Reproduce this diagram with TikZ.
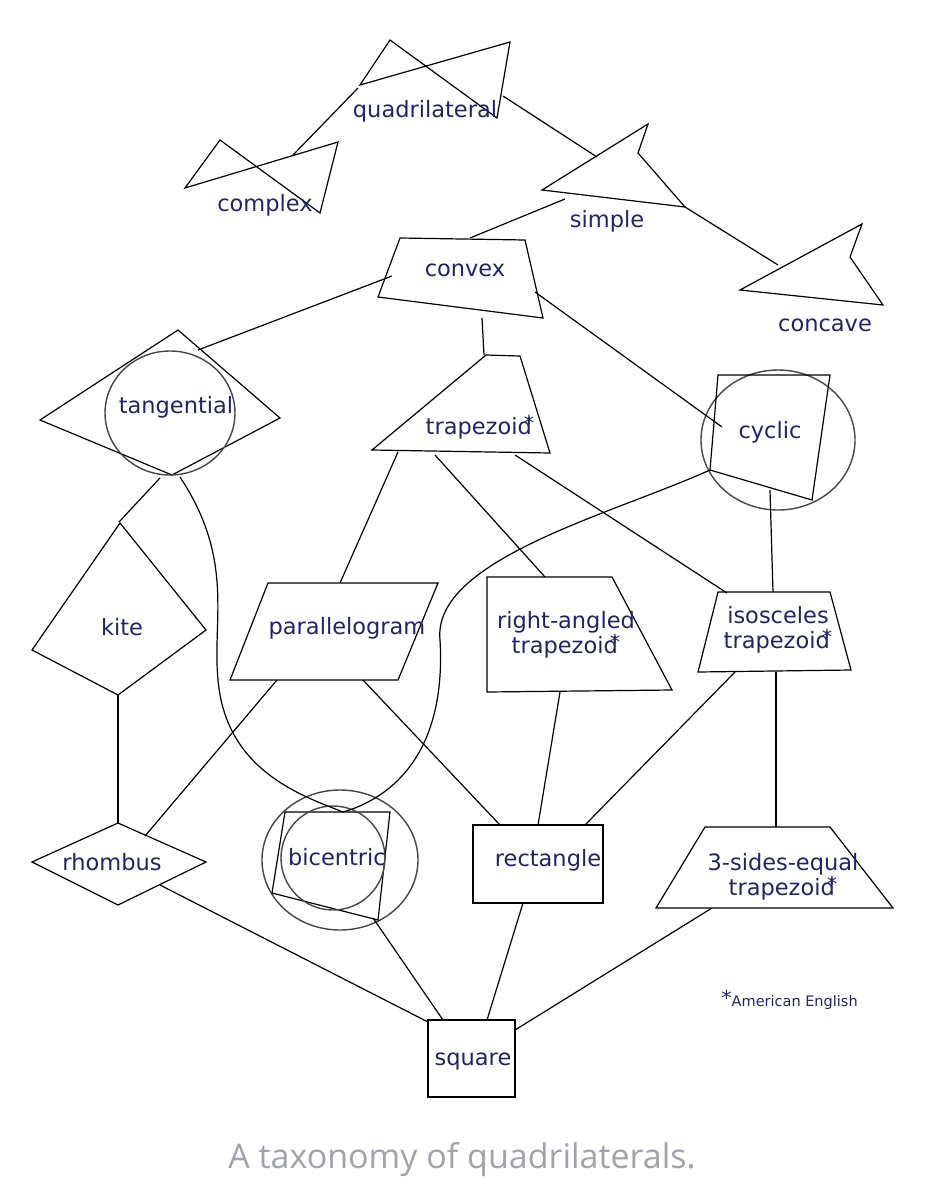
\documentclass[tikz,border=0pt]{standalone}
\usepackage{fontspec}
\setmainfont{DejaVu Sans}
\newfontfamily\capfont{Open Sans}
\definecolor{labelblue}{RGB}{35,35,100}
\definecolor{capgray}{RGB}{160,163,172}
\newcommand{\amstar}{\kern-0.35em\raisebox{0.35ex}{\huge*}}
\tikzset{every picture/.style={line width=1.2pt}}
\tikzset{lbl/.style={inner sep=0.75pt,color=labelblue,font=\fontsize{22.5}{25}\selectfont,align=center}}
\tikzset{ring/.style={draw={rgb,255:red,70;green,70;blue,70},line width=1.4pt}}

\begin{document}
\begin{tikzpicture}[x=1pt,y=1pt,yscale=-1,xscale=1]
\useasboundingbox (0,0) rectangle (929,1200);

%Shapes
\draw (360,85) -- (390,40) -- (497,118) -- (510,42) -- cycle ;
\draw (185,188) -- (220,140) -- (320,213) -- (338,142) -- cycle ;
\draw (542,190) -- (648,124) -- (638,153) -- (685,207) -- cycle ;
\draw (740,290) -- (862,224) -- (850,257) -- (883,305) -- cycle ;
\draw (400,238) -- (525,240) -- (543,318) -- (378,297) -- cycle ;
\draw (40,420) -- (178,330) -- (280,418) -- (172,475) -- cycle ;
\draw [ring] (170,413) ellipse (65 and 62) ;
\draw (372,450) -- (486,355) -- (520,356) -- (550,453) -- cycle ;
\draw [ring] (778,440) ellipse (77 and 70) ;
\draw (718,375) -- (830,375) -- (812,500) -- (710,470) -- cycle ;
\draw (32,650) -- (120,523) -- (206,630) -- (118,695) -- cycle ;
\draw (230,680) -- (268,583) -- (438,583) -- (398,680) -- cycle ;
\draw (487,577) -- (612,577) -- (672,690) -- (487,692) -- cycle ;
\draw (698,672) -- (718,592) -- (830,592) -- (851,670) -- cycle ;
\draw (32,862) -- (118,823) -- (206,862) -- (118,905) -- cycle ;
\draw [ring] (340,860) ellipse (78 and 70) ;
\draw (285,812) -- (390,812) -- (378,920) -- (272,893) -- cycle ;
\draw [ring] (333,858) circle (52) ;
\draw (473,825) rectangle (603,903) ;
\draw (656,908) -- (705,827) -- (830,827) -- (893,908) -- cycle ;
\draw (428,1020) rectangle (515,1097) ;

%Connector ends
\coordinate (quadA) at (358,88); \coordinate (complexA) at (293,155);
\coordinate (quadB) at (503,96); \coordinate (simpleA) at (597,157);
\coordinate (simpleB) at (565,199); \coordinate (convexA) at (470,238);
\coordinate (simpleC) at (685,207); \coordinate (concaveA) at (778,265);
\coordinate (convexB) at (392,276); \coordinate (tangA) at (198,350);
\coordinate (convexC) at (482,318); \coordinate (trapA) at (484,355);
\coordinate (convexD) at (535,292); \coordinate (cyclicA) at (722,427);
\coordinate (tangB) at (160,478); \coordinate (kiteA) at (119,522);
\coordinate (tangC) at (180,477); \coordinate (bicA) at (343,812);
\coordinate (cyclicB) at (710,470);
\coordinate (trapB) at (398,452); \coordinate (paraA) at (340,583);
\coordinate (trapC) at (435,455); \coordinate (rightA) at (545,577);
\coordinate (trapD) at (515,455); \coordinate (isoA) at (727,593);
\coordinate (cyclicC) at (770,490); \coordinate (isoB) at (773,592);
\coordinate (kiteB) at (118,695); \coordinate (rhombA) at (118,823);
\coordinate (paraB) at (277,680); \coordinate (rhombB) at (145,836);
\coordinate (paraC) at (363,680); \coordinate (rectA) at (500,825);
\coordinate (rightB) at (560,692); \coordinate (rectB) at (538,825);
\coordinate (isoC) at (735,672); \coordinate (rectC) at (585,825);
\coordinate (isoD) at (776,672); \coordinate (threeA) at (776,827);
\coordinate (rhombC) at (160,885); \coordinate (squareA) at (428,1022);
\coordinate (bicB) at (373,918); \coordinate (squareB) at (443,1020);
\coordinate (rectD) at (523,903); \coordinate (squareC) at (487,1020);
\coordinate (threeB) at (712,908); \coordinate (squareD) at (515,1030);

%Connectors
\draw (quadA) -- (complexA) ;
\draw (quadB) -- (simpleA) ;
\draw (simpleB) -- (convexA) ;
\draw (simpleC) -- (concaveA) ;
\draw (convexB) -- (tangA) ;
\draw (convexC) -- (trapA) ;
\draw (convexD) -- (cyclicA) ;
\draw (tangB) -- (kiteA) ;
\draw (tangC) .. controls (235,560) and (212,620) .. (218,680) .. controls (226,770) and (300,795) .. (bicA) ;
\draw (cyclicB) .. controls (610,515) and (432,560) .. (440,640) .. controls (447,760) and (385,800) .. (bicA) ;
\draw (trapB) -- (paraA) ;
\draw (trapC) -- (rightA) ;
\draw (trapD) -- (isoA) ;
\draw (cyclicC) -- (isoB) ;
\draw (kiteB) -- (rhombA) ;
\draw (paraB) -- (rhombB) ;
\draw (paraC) -- (rectA) ;
\draw (rightB) -- (rectB) ;
\draw (isoC) -- (rectC) ;
\draw (isoD) -- (threeA) ;
\draw (rhombC) -- (squareA) ;
\draw (bicB) -- (squareB) ;
\draw (rectD) -- (squareC) ;
\draw (threeB) -- (squareD) ;

%Labels
\node [lbl] (quadL) at (425,111) {quadrilateral};
\node [lbl] (complexL) at (265,205) {complex};
\node [lbl] (simpleL) at (607,221) {simple};
\node [lbl] (concaveL) at (825,325) {concave};
\node [lbl] (convexL) at (465,270) {convex};
\node [lbl] (tangL) at (176,407) {tangential};
\node [lbl] (trapL) at (480,427) {trapezoid\amstar};
\node [lbl] (cyclicL) at (770,432) {cyclic};
\node [lbl] (kiteL) at (122,627) {kite};
\node [lbl] (paraL) at (347,628) {parallelogram};
\node [lbl] (rightL) at (566,635) {right-angled\\trapezoid\amstar};
\node [lbl] (isoL) at (778,630) {isosceles\\trapezoid\amstar};
\node [lbl] (rhombL) at (112,862) {rhombus};
\node [lbl] (bicL) at (337,857) {bicentric};
\node [lbl] (rectL) at (548,860) {rectangle};
\node [lbl] (threeL) at (783,877) {3-sides-equal\\trapezoid\amstar};
\node [lbl] (squareL) at (473,1062) {square};
\node [lbl,anchor=west,font=\fontsize{14.5}{16}\selectfont] (noteL) at (720,1000) {\raisebox{0.1ex}{\huge*}American English};
\node [inner sep=0pt,color=capgray,font=\capfont\fontsize{34}{40}\selectfont] (captionL) at (462,1160) {A taxonomy of quadrilaterals.};

\end{tikzpicture}
\end{document}
